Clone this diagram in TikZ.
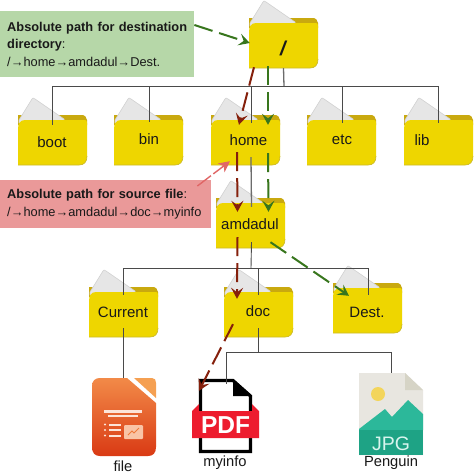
\documentclass[tikz,border=0pt]{standalone}
\usepackage{fontspec}
\setmainfont{Liberation Sans}
\usetikzlibrary{arrows.meta}
\definecolor{foldfront}{HTML}{EED600}
\definecolor{foldedge}{HTML}{CDBB2A}
\definecolor{foldtab}{HTML}{C9A90F}
\definecolor{foldpaper}{HTML}{E6E6E6}
\definecolor{treeline}{HTML}{4A4A4A}
\definecolor{pathgreen}{HTML}{38761D}
\definecolor{pathred}{HTML}{85200C}
\definecolor{pathpink}{HTML}{E06666}
\definecolor{gboxc}{HTML}{B6D7A8}
\definecolor{rboxc}{HTML}{EA9999}
\definecolor{imptop}{HTML}{F28A48}
\definecolor{impbot}{HTML}{D93A14}
\definecolor{impfold}{HTML}{F5A052}
\definecolor{impwhite}{HTML}{FCE4D8}
\definecolor{impchart}{HTML}{F9C4A6}
\definecolor{imppen}{HTML}{EE7A3A}
\definecolor{pdfred}{HTML}{ED1C2E}
\definecolor{jpgbody}{HTML}{E8E6E0}
\definecolor{jpgfold}{HTML}{D6D4C6}
\definecolor{jpgsun}{HTML}{F3D55B}
\definecolor{jpgteal}{HTML}{2CB89A}
\definecolor{jpgband}{HTML}{1EA385}
\definecolor{jpgtext}{HTML}{D8F5EE}
\tikzset{
  x=1pt,y=-1pt,
  folderbox/.style={rectangle,inner sep=0pt,minimum width=69pt,minimum height=45pt},
  iconbox/.style={rectangle,inner sep=0pt},
  lab/.style={inner sep=0pt,text=black!90,font=\fontsize{15}{18}\selectfont},
  caption/.style={inner sep=0pt,text=black!90,font=\fontsize{14.7}{17}\selectfont},
  tree/.style={draw=treeline,line width=0.9pt},
  tree2/.style={draw=gray!85!black,line width=1.3pt},
  dashgreen/.style={draw=pathgreen,line width=2pt,dash pattern=on 19pt off 7pt,-{Stealth[length=11pt,width=12pt,inset=4.5pt]}},
  dashred/.style={draw=pathred,line width=2pt,dash pattern=on 19pt off 7pt,-{Stealth[length=11pt,width=12pt,inset=4.5pt]}},
  dashpink/.style={draw=pathpink,line width=1.4pt,dash pattern=on 17pt off 3pt,-{Stealth[length=11pt,width=11pt,inset=3pt]}},
  infobox/.style={rectangle,inner ysep=0pt,inner xsep=7pt,align=left,text=black!90,
     font=\fontsize{12.8}{17.6}\selectfont},
  folder/.pic={
    \fill[foldtab] (0,-5) -- (65,-5) .. controls (67,-5) and (68,-3) .. (69,0) -- (69,5) -- (0,5) -- cycle;
    \filldraw[fill=foldpaper,draw=black!18,line width=0.6pt,line join=round] (1,0) -- (14,-21) -- (15,-22) -- (17,-21) -- (46,-1) -- (46,3) -- (1,3) -- cycle;
    \fill[foldfront] (0,45) -- (0,9) .. controls (0,4) and (2,0) .. (7,0) -- (67,0) .. controls (68.5,0) and (69,1) .. (69,3)
       -- (69,36) .. controls (69,42) and (66,45) .. (61,45) -- cycle;
    \draw[foldedge,line width=0.7pt] (0,45) -- (61,45) .. controls (66,45) and (69,42) .. (69,36);
  }
}
\newcommand{\folderat}[6]{%
  \pic at (#2,#3) {folder};
  \node[folderbox] (#1) at (#2+34.5,#3+22.5) {};
  \node[lab] (#1-t) at (#4,#5) {#6};
}
\begin{document}
\begin{tikzpicture}
\useasboundingbox (0,0) rectangle (474,474);
\fill[white] (0,0) rectangle (474,474);

% info boxes
\node[infobox,fill=gboxc,anchor=north west,text width=180pt,minimum height=66pt] (gbox) at (0,11)
  {\mbox{\textbf{Absolute path for destination}}\\\textbf{directory}:\\\mbox{/→home→amdadul→Dest.}};
\node[infobox,fill=rboxc,anchor=north west,text width=197pt,minimum height=48pt] (rbox) at (0,180)
  {\mbox{\textbf{Absolute path for source file}:}\\\mbox{/→home→amdadul→doc→myinfo}};

% folders
\folderat{root}{249}{23}{283}{48}{\fontsize{20}{22}\selectfont\bfseries\itshape /}
\folderat{boot}{18}{120}{52}{142}{boot}
\folderat{bin}{114}{120}{149}{139}{bin}
\folderat{home}{211}{120}{248.5}{140}{home}
\folderat{etc}{307}{120}{342}{140}{etc}
\folderat{lib}{404}{120}{422}{140}{lib}
\folderat{amdadul}{216}{203}{250}{224.5}{amdadul}
\folderat{current}{89}{292}{123}{312}{Current}
\folderat{doc}{224}{292}{258}{311}{doc}
\folderat{dest}{333}{288}{367}{312}{Dest.}

% Impress icon
\node[iconbox,minimum width=64pt,minimum height=78pt] (file) at (124,417) {};
\shade[top color=imptop,bottom color=impbot]
  (100,378) -- (127,378) -- (156,403) -- (156,447) .. controls (156,453) and (153,456) .. (148,456) -- (100,456)
  .. controls (95,456) and (92,453) .. (92,447) -- (92,386) .. controls (92,381) and (95,378) .. (100,378) -- cycle;
\fill[impfold] (134,378) -- (152,378) .. controls (155,378) and (156,380) .. (156,383) -- (156,398) -- cycle;
\fill[impwhite] (104,410) rectangle (142,412.5);
\fill[impwhite] (108,414.5) rectangle (138,417);
\fill[impwhite] (105,424.5) circle (1.2);
\fill[impwhite] (105,430) circle (1.2);
\fill[impwhite] (105,435.5) circle (1.2);
\fill[impwhite] (109,423.5) rectangle (121,425.5);
\fill[impwhite] (109,429) rectangle (121,431);
\fill[impwhite] (109,434.5) rectangle (121,436.5);
\fill[impchart,rounded corners=1pt] (124,425) rectangle (143,439);
\draw[imppen,line width=1pt] (128,435) -- (132,431) -- (134,433) -- (139,428);

% PDF icon
\node[iconbox,minimum width=67pt,minimum height=74pt] (pdf) at (225.5,416) {};
\draw[black,line width=3.2pt,line join=miter] (200.5,380.5) -- (233,380.5) -- (250.5,396) -- (250.5,451.5) -- (200.5,451.5) -- cycle;
\fill[black] (233,379) -- (252,396) -- (233,396) -- cycle;
\fill[pdfred] (192,411) -- (199,404) -- (199,411) -- (252,411) -- (252,404) -- (259,411) -- (259,438) -- (192,438) -- cycle;
\node[iconbox,text=white,font=\fontsize{24.5}{26}\selectfont\bfseries] (pdf-t) at (225.5,425) {PDF};

% JPG icon
\node[iconbox,minimum width=64pt,minimum height=82pt] (jpg) at (391,414) {};
\fill[jpgbody] (359,373) -- (405,373) -- (423,390) -- (423,455) -- (359,455) -- cycle;
\fill[jpgfold] (405,373) -- (423,390) -- (405,390) -- cycle;
\fill[jpgsun] (378,394) circle (7);
\fill[jpgteal] (359,430) -- (359,429) -- (385,409) -- (392,417) -- (408,400) -- (423,414) -- (423,430) -- cycle;
\fill[jpgband] (359,430) rectangle (423,455);
\node[iconbox,text=jpgtext,font=\fontsize{19.5}{21}\selectfont] (jpg-t) at (391,444) {JPG};

% captions
\node[caption] (file-c) at (123,466) {file};
\node[caption] (pdf-c) at (225,463) {myinfo};
\node[caption] (jpg-c) at (391,463) {Penguin};

% tree connectors
\coordinate (bus1) at (284,86);
\coordinate (bus2) at (251,268);
\coordinate (bus3) at (258,352);
\draw[tree2] (root.south) -- (bus1);
\draw[tree] ([yshift=-5pt]boot.north) |- (bus1);
\draw[tree] ([xshift=-0.5pt,yshift=-3pt]lib.north) |- (bus1);
\draw[tree] ([xshift=0.5pt,yshift=-2pt]bin.north) -- ([xshift=0.5pt]bin.north |- bus1);
\draw[tree] ([xshift=5.5pt,yshift=-3pt]home.north) -- ([xshift=5.5pt]home.north |- bus1);
\draw[tree] ([xshift=0.5pt,yshift=-3pt]etc.north) -- ([xshift=0.5pt]etc.north |- bus1);
\draw[tree2] ([xshift=5.5pt,yshift=8pt]home.south) -- ([xshift=1pt,yshift=-4pt]amdadul.north);
\draw[tree] ([xshift=1pt,yshift=6pt]amdadul.south) -- (bus2);
\draw[tree] ([xshift=-0.5pt,yshift=-3pt]current.north) |- (bus2);
\draw[tree] ([xshift=0.5pt,yshift=-7pt]dest.north) |- (bus2);
\draw[tree] ([xshift=-0.5pt,yshift=-3pt]doc.north) -- ([xshift=-0.5pt]doc.north |- bus2);
\draw[tree] ([xshift=-0.5pt,yshift=9pt]current.south) -- ([xshift=-1pt]file.north);
\draw[tree] ([xshift=-0.5pt,yshift=9pt]doc.south) -- (bus3);
\draw[tree] ([xshift=0.5pt,yshift=-5pt]pdf.north) |- (bus3);
\draw[tree] (jpg.north) |- (bus3);

% green path
\draw[dashgreen] ([yshift=-14pt]gbox.north east) -- ([yshift=2.5pt,xshift=1pt]root.west);
\draw[dashgreen] ([xshift=-15.5pt,yshift=2pt]root.south) -- ([xshift=22.5pt,yshift=-5pt]home.north);
\draw[dashgreen] ([xshift=22.5pt,yshift=12pt]home.south) -- ([xshift=18pt,yshift=-9pt]amdadul.north);
\draw[dashgreen] ([xshift=20pt,yshift=6pt]amdadul.south) -- ([xshift=-18.5pt,yshift=-8pt]dest.north);

% red path
\draw[dashred] ([xshift=-29.5pt,yshift=1pt]root.south) -- ([xshift=-6.5pt,yshift=-5pt]home.north);
\draw[dashred] ([xshift=-8.5pt,yshift=13pt]home.south) -- ([xshift=-13pt,yshift=-9pt]amdadul.north);
\draw[dashred] ([xshift=-13pt,yshift=11pt]amdadul.south) -- ([xshift=-21.5pt,yshift=-7pt]doc.north);
\draw[dashred] ([xshift=-25.5pt,yshift=13pt]doc.south) -- ([xshift=-26.5pt,yshift=-12pt]pdf.north);

% pink path
\draw[dashpink] ([xshift=-14pt,yshift=-6pt]rbox.north east) -- ([xshift=-15.5pt,yshift=4pt]home.south);
\end{tikzpicture}
\end{document}
